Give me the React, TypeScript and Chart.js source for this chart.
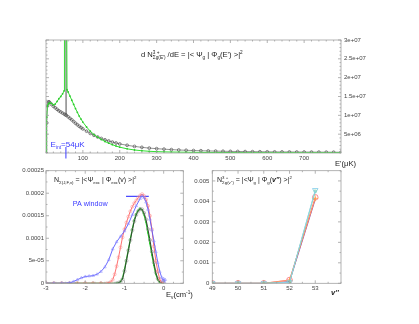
import React, { useEffect, useRef } from 'react';
import { Chart, registerables } from 'chart.js';

Chart.register(...registerables);

const FONT = '"Liberation Sans", Arial, Helvetica, sans-serif';

// ---------- top panel : dN/dE vs E' (μK), values in units of 1e6 ----------
const grayEnergy = [0, 2, 4, 6, 8, 10, 15, 20, 25, 30, 35, 40, 45, 50, 53, 54, 55, 60, 65, 70, 75, 80, 85, 90, 95, 100,
  110, 120, 130, 140, 150, 160, 170, 180, 190, 200,
  220, 240, 260, 280, 300, 320, 340, 360, 380, 400, 420, 440, 460, 480, 500, 520, 540, 560, 580, 600, 620, 640, 660, 680, 700, 720, 740, 760, 780, 800];
const grayDensityE6 = [0, 8.0, 12.5, 13.5, 13.6, 13.4, 12.9, 12.4, 12.0, 11.6, 11.2, 10.9, 10.6, 10.3, 10.15, 40, 10.0, 9.6, 9.2, 8.8, 8.35, 7.9, 7.5, 7.1, 6.75, 6.4,
  5.8, 5.2, 4.7, 4.25, 3.85, 3.5, 3.2, 2.9, 2.65, 2.4,
  2.05, 1.75, 1.5, 1.3, 1.15, 1.02, 0.9, 0.8, 0.72, 0.65, 0.6, 0.55, 0.5, 0.46, 0.43, 0.4, 0.37, 0.35, 0.33, 0.31, 0.29, 0.28, 0.27, 0.26, 0.25, 0.24, 0.23, 0.22, 0.21, 0.2];
const greenEnergy = [0, 1, 2, 4, 6, 8, 10, 15, 20, 25, 30, 35, 40, 45, 49, 50, 56, 57, 60, 65, 70, 75, 80, 85, 90, 95, 100,
  110, 120, 130, 140, 150, 160, 170, 180, 190, 200,
  220, 240, 260, 280, 300, 320, 340, 360, 380, 400, 420, 440, 460, 480, 500, 520, 540, 560, 580, 600, 620, 640, 660, 680, 700, 720, 740, 760, 780, 800];
const greenDensityE6 = [0, 5, 9.5, 12.5, 13.0, 13.2, 13.3, 13.2, 12.8, 13.0, 13.7, 14.4, 15.0, 15.7, 16.5, 40, 40, 16.8, 16.2, 15.1, 14.0, 12.9, 11.8, 10.8, 9.8, 9.0, 8.2,
  6.9, 5.8, 4.9, 4.2, 3.6, 3.05, 2.6, 2.2, 1.85, 1.55,
  1.1, 0.8, 0.6, 0.45, 0.36, 0.3, 0.26, 0.23, 0.2, 0.18, 0.16, 0.15, 0.14, 0.13, 0.12, 0.11, 0.105, 0.1, 0.095, 0.09, 0.088, 0.085, 0.082, 0.08, 0.078, 0.076, 0.074, 0.072, 0.07, 0.07];
const topXTicks = [100, 200, 300, 400, 500, 600, 700];
const topXTickLabels = ['100', '200', '300', '400', '500', '600', '700'];
const topYTicks = [5e6, 1e7, 1.5e7, 2e7, 2.5e7, 3e7];
const topYTickLabels = ['5e+06', '1e+07', '1.5e+07', '2e+07', '2.5e+07', '3e+07'];
const intEnergy = 54;

// ---------- bottom-left : N vs E_v (cm^-1), values in units of 1e-5 ----------
const exBlueE = [-3, -2.8, -2.6, -2.4, -2.3, -2.2, -2.1, -2, -1.9, -1.8, -1.7, -1.6, -1.5, -1.4, -1.3, -1.2, -1.1, -1, -0.9, -0.8, -0.7, -0.6, -0.55, -0.5, -0.45, -0.4, -0.35, -0.3, -0.25, -0.2, -0.15, -0.1, -0.05, -0.02, 0, 0.02, 0.04];
const exBlueN = [0, 0, 0, 0.1, 0.4, 0.8, 1.2, 1.5, 1.6, 1.7, 2.0, 2.6, 3.6, 5.2, 7.6, 9.2, 10.4, 11.6, 13.2, 15.2, 17.2, 18.8, 19.4, 19.0, 18.0, 16.4, 14.2, 11.8, 9.4, 7.0, 4.6, 2.6, 1.3, 0.6, 1.0, 0.4, 0.8];
const exRedE = [-3, -2.8, -2.6, -2.4, -2.2, -2, -1.8, -1.6, -1.45, -1.35, -1.3, -1.25, -1.2, -1.15, -1.1, -1.05, -1, -0.95, -0.9, -0.85, -0.8, -0.75, -0.7, -0.65, -0.6, -0.55, -0.5, -0.45, -0.4, -0.35, -0.3, -0.25, -0.2, -0.15, -0.1, -0.05, 0];
const exRedN = [0, 0, 0, 0, 0, 0, 0, 0, 0, 0.3, 0.8, 2.0, 3.8, 5.8, 8.0, 10.2, 12.0, 13.5, 14.8, 16.0, 17.0, 17.8, 18.4, 19.0, 19.5, 19.8, 19.4, 18.6, 17.2, 15.0, 12.0, 8.2, 5.0, 2.7, 0.9, 0.2, 0];
const exGreenE = [-3, -2.8, -2.6, -2.4, -2.2, -2, -1.8, -1.6, -1.4, -1.2, -1.15, -1.1, -1.05, -1, -0.95, -0.9, -0.85, -0.8, -0.75, -0.7, -0.65, -0.6, -0.55, -0.5, -0.45, -0.4, -0.35, -0.3, -0.25, -0.2, -0.15, -0.1, -0.05, 0];
const exGreenN = [0, 0, 0, 0, 0, 0, 0, 0, 0, 0, 0.1, 0.4, 1.1, 3.0, 5.2, 7.5, 9.8, 12.0, 14.0, 15.4, 16.2, 16.6, 16.3, 15.2, 13.6, 11.2, 8.8, 6.3, 4.0, 2.0, 0.8, 0.2, 0, 0];
const exBlackN = [0, 0, 0, 0, 0, 0, 0, 0, 0, 0, 0.1, 0.3, 0.9, 2.7, 5.0, 7.3, 9.6, 11.8, 13.8, 15.2, 16.0, 16.5, 16.4, 15.6, 14.2, 12.0, 9.6, 7.0, 4.6, 2.4, 1.0, 0.3, 0.1, 0];
const paWindowE = [-0.96, -0.38];
const paWindowN = [19.3, 19.3];
const exXTicks = [-3, -2, -1, 0];
const exXTickLabels = ['-3', '-2', '-1', '0'];
const exYTicks = [0, 5e-5, 1e-4, 1.5e-4, 2e-4, 2.5e-4];
const exYTickLabels = ['0', '5e-05', '0.0001', '0.00015', '0.0002', '0.00025'];

// ---------- bottom-right : N vs v'' ----------
const vLevels = [49, 50, 51, 52, 53];
const gCyan = [0, 0, 0, 0.00005, 0.00455];
const gGreen = [0, 0, 0, 0.00005, 0.0045];
const gRed = [0, 0, 0, 0.00016, 0.0042];
const gOrange = [0, 0, 0, 0.00015, 0.00415];
const gPurple = [0, 0, 0, 0.00008, 0.0041];
const gXTicks = [49, 50, 51, 52, 53];
const gXTickLabels = ['49', '50', '51', '52', '53'];
const gYTicks = [0, 0.001, 0.002, 0.003, 0.004, 0.005];
const gYTickLabels = ['0', '0.001', '0.002', '0.003', '0.004', '0.005'];

// ---------- helpers ----------
const pts = (xs: number[], ys: number[], k = 1) => xs.map((x, i) => ({ x, y: ys[i] * k }));

function axis(o: any) {
  return {
    type: 'linear',
    position: o.position,
    min: o.min,
    max: o.max,
    grid: { display: false, drawTicks: false },
    border: { display: false },
    ticks: {
      color: '#444',
      font: { family: FONT, size: 6 },
      padding: o.padding,
      autoSkip: false,
      maxRotation: 0,
      callback: (_v: any, i: number) => o.labels[i],
    },
    afterBuildTicks: (s: any) => { s.ticks = o.ticks.map((v: number) => ({ value: v })); },
    afterFit: (s: any) => { if (o.horizontal) s.height = o.size; else s.width = o.size; },
  };
}

type Seg = [string, string, boolean?];
function drawRich(ctx: CanvasRenderingContext2D, x: number, y: number, segs: Seg[], size: number, color: string) {
  let cx = x;
  ctx.save();
  ctx.fillStyle = color;
  ctx.textBaseline = 'alphabetic';
  ctx.textAlign = 'left';
  for (const [t, k, noAdv] of segs) {
    const small = k === 'sub' || k === 'sup';
    const s = small ? size * 0.62 : size;
    const dy = k === 'sub' ? size * 0.32 : k === 'sup' ? -size * 0.45 : 0;
    ctx.font = `${k === 'it' ? 'italic bold ' : ''}${s}px ${FONT}`;
    ctx.fillText(t, cx, y + dy);
    if (!noAdv) cx += ctx.measureText(t).width;
  }
  ctx.restore();
}

function drawFrame(chart: any, xMaj: number[], xStep: number, yMaj: number[], yStep: number) {
  const { ctx, chartArea: a } = chart;
  const xs = chart.scales.x, ys = chart.scales.y;
  ctx.save();
  ctx.strokeStyle = '#a0a0a0';
  ctx.lineWidth = 0.8;
  ctx.strokeRect(a.left, a.top, a.right - a.left, a.bottom - a.top);
  const ln = (x1: number, y1: number, x2: number, y2: number) => { ctx.beginPath(); ctx.moveTo(x1, y1); ctx.lineTo(x2, y2); ctx.stroke(); };
  for (let v = xs.min; v <= xs.max + 1e-9; v += xStep) {
    const p = xs.getPixelForValue(v);
    const L = xMaj.some((m) => Math.abs(m - v) < xStep / 10) ? 3 : 1.5;
    ln(p, a.bottom, p, a.bottom - L); ln(p, a.top, p, a.top + L);
  }
  for (let v = ys.min; v <= ys.max + 1e-12; v += yStep) {
    const p = ys.getPixelForValue(v);
    const L = yMaj.some((m) => Math.abs(m - v) < yStep / 10) ? 3 : 1.5;
    ln(a.left, p, a.left + L, p); ln(a.right, p, a.right - L, p);
  }
  ctx.restore();
}

const baseOpts = {
  responsive: false,
  animation: false,
  events: [],
  plugins: { legend: { display: false }, tooltip: { enabled: false } },
};

// ---------- chart configs ----------
function topConfig(ox: number, oy: number): any {
  return {
    type: 'line',
    data: {
      datasets: [
        {
          data: pts(greenEnergy, greenDensityE6, 1e6),
          borderColor: '#33e033', borderWidth: 1,
          pointRadius: 0.9, pointBorderWidth: 0, pointBackgroundColor: '#2fc82f',
        },
        {
          data: pts(grayEnergy, grayDensityE6, 1e6),
          borderColor: '#777', borderWidth: 0.8,
          pointRadius: 1.4, pointBorderWidth: 0.7, pointBorderColor: '#555', pointBackgroundColor: 'rgba(0,0,0,0)',
        },
      ],
    },
    options: {
      ...baseOpts,
      layout: { padding: { left: 46, top: 40, right: 0, bottom: 0 } },
      scales: {
        x: axis({ position: 'bottom', min: 0, max: 800, ticks: topXTicks, labels: topXTickLabels, padding: 1.5, size: 15, horizontal: true }),
        y: axis({ position: 'right', min: 0, max: 3e7, ticks: topYTicks, labels: topYTickLabels, padding: 3, size: 78 }),
      },
    },
    plugins: [{
      id: 'topDecor',
      afterDraw(chart: any) {
        const ctx = chart.ctx;
        drawFrame(chart, topXTicks, 20, topYTicks, 1e6);
        drawRich(ctx, 141 - ox, 57 - oy, [
          ['d N', 'n'], ['3 +', 'sup', true], ['Σg(E\')', 'sub'], [' /dE = |< Ψ', 'n'], ['g', 'sub'],
          [' | Φ', 'n'], ['g', 'sub'], ['(E\') >|', 'n'], ['2', 'sup'],
        ], 7.6, '#222');
        drawRich(ctx, 335 - ox, 166 - oy, [['E\'(μK)', 'n']], 7.6, '#222');
        drawRich(ctx, 50.5 - ox, 146.5 - oy, [['E', 'n'], ['int', 'sub'], ['=54μK', 'n']], 8, '#3a3aff');
        const px = chart.scales.x.getPixelForValue(intEnergy);
        ctx.save();
        ctx.strokeStyle = '#3a3aff'; ctx.lineWidth = 1;
        ctx.beginPath(); ctx.moveTo(px, 147 - oy); ctx.lineTo(px, 158.5 - oy); ctx.stroke();
        ctx.restore();
      },
    }],
  };
}

function excConfig(ox: number, oy: number): any {
  return {
    type: 'line',
    data: {
      datasets: [
        {
          data: pts(exBlueE, exBlueN, 1e-5), borderColor: '#5a5aff', borderWidth: 0.9,
          pointStyle: 'triangle', pointRadius: 1.6, pointBorderWidth: 0.5, pointBorderColor: '#8a8aff', pointBackgroundColor: 'rgba(0,0,0,0)',
        },
        {
          data: pts(exRedE, exRedN, 1e-5), borderColor: '#ff6060', borderWidth: 0.9,
          pointRadius: 1.5, pointBorderWidth: 0.5, pointBorderColor: '#ff8a8a', pointBackgroundColor: 'rgba(0,0,0,0)',
        },
        {
          data: pts(exGreenE, exBlackN, 1e-5), borderColor: '#333', borderWidth: 0.9,
          pointRadius: 1.6, pointBorderWidth: 0.5, pointBorderColor: '#888', pointBackgroundColor: 'rgba(0,0,0,0)',
        },
        {
          data: pts(exGreenE, exGreenN, 1e-5), borderColor: '#22cc22', borderWidth: 1.3,
          pointStyle: 'rect', pointRadius: 1, pointBorderWidth: 0, pointBackgroundColor: '#22cc22',
        },
        {
          data: pts(paWindowE, paWindowN, 1e-5), borderColor: '#4a4aff', borderWidth: 1.3, pointRadius: 0,
        },
      ],
    },
    options: {
      ...baseOpts,
      layout: { padding: { left: 0, top: 10.7, right: 21.7, bottom: 0 } },
      scales: {
        x: axis({ position: 'bottom', min: -3, max: 0.5, ticks: exXTicks, labels: exXTickLabels, padding: 1.6, size: 40.7, horizontal: true }),
        y: axis({ position: 'left', min: 0, max: 2.5e-4, ticks: exYTicks, labels: exYTickLabels, padding: 2, size: 46 }),
      },
    },
    plugins: [{
      id: 'excDecor',
      afterDraw(chart: any) {
        const ctx = chart.ctx;
        drawFrame(chart, exXTicks, 0.25, exYTicks, 2.5e-5);
        drawRich(ctx, 54 - ox, 182 - oy, [
          ['N', 'n'], ['Σ(J,F,v)', 'sub'], [' = |<Ψ', 'n'], ['exc', 'sub'], [' | Φ', 'n'], ['exc', 'sub'], ['(v) >|', 'n'], ['2', 'sup'],
        ], 7, '#222');
        drawRich(ctx, 72.7 - ox, 205.5 - oy, [['PA window', 'n']], 7.2, '#3a3aff');
        drawRich(ctx, 166 - ox, 297 - oy, [['E', 'n'], ['v', 'sub'], ['(cm', 'n'], ['-1', 'sup'], [')', 'n']], 7.6, '#222');
      },
    }],
  };
}

function gndConfig(ox: number, oy: number): any {
  return {
    type: 'line',
    data: {
      datasets: [
        {
          data: pts(vLevels, gCyan), borderColor: '#8fd3f0', borderWidth: 1,
          pointStyle: 'triangle', rotation: 180, pointRadius: 3.2, pointBorderWidth: 0.8, pointBorderColor: '#7fcbe8', pointBackgroundColor: 'rgba(0,0,0,0)',
        },
        {
          data: pts(vLevels, gGreen), borderColor: '#6ad46a', borderWidth: 0.8,
          pointStyle: 'rect', pointRadius: 1.5, pointBorderWidth: 0.6, pointBorderColor: '#5ccc5c', pointBackgroundColor: 'rgba(0,0,0,0)',
        },
        {
          data: pts(vLevels, gOrange), borderColor: '#ffb060', borderWidth: 0.8,
          pointStyle: 'cross', pointRadius: 3, pointBorderWidth: 0.8, pointBorderColor: '#ffa040',
        },
        {
          data: pts(vLevels, gRed), borderColor: '#ff5c7a', borderWidth: 1,
          pointRadius: 2.8, pointBorderWidth: 0.8, pointBorderColor: '#ff6a7e', pointBackgroundColor: 'rgba(0,0,0,0)',
        },
        {
          data: pts(vLevels, gPurple), borderColor: '#8a3fb0', borderWidth: 1, pointRadius: 0,
        },
      ],
    },
    options: {
      ...baseOpts,
      layout: { padding: { left: 0, top: 10.7, right: 78, bottom: 0 } },
      scales: {
        x: axis({ position: 'bottom', min: 49, max: 54, ticks: gXTicks, labels: gXTickLabels, padding: 1.6, size: 40.7, horizontal: true }),
        y: axis({ position: 'left', min: 0, max: 0.0055, ticks: gYTicks, labels: gYTickLabels, padding: 3, size: 27.3 }),
      },
    },
    plugins: [{
      id: 'gndDecor',
      afterDraw(chart: any) {
        const ctx = chart.ctx;
        drawFrame(chart, gXTicks, 0.5, gYTicks, 0.0005);
        drawRich(ctx, 217 - ox, 182 - oy, [
          ['N', 'n'], ['3 +', 'sup', true], ['Σg(v\'\')', 'sub'], [' = |<Ψ', 'n'], ['g', 'sub'], [' | Φ', 'n'], ['g', 'sub'],
          ['(', 'n'], ['v\'\'', 'it'], [') >|', 'n'], ['2', 'sup'],
        ], 7, '#222');
        drawRich(ctx, 331 - ox, 295 - oy, [['v\'\'', 'it']], 7.6, '#222');
      },
    }],
  };
}

function Panel({ left, top, width, height, make }: { left: number; top: number; width: number; height: number; make: (ox: number, oy: number) => any }) {
  const ref = useRef<HTMLCanvasElement>(null);
  useEffect(() => {
    const chart = new Chart(ref.current as HTMLCanvasElement, make(left, top));
    return () => chart.destroy();
  }, []);
  return (
    <canvas
      ref={ref}
      width={width}
      height={height}
      style={{ position: 'absolute', left, top, width, height }}
    />
  );
}

export default function App() {
  return (
    <div style={{ position: 'fixed', left: 0, top: 0, width: 419, height: 324, background: '#fff', overflow: 'hidden' }}>
      <Panel left={0} top={0} width={419} height={168} make={topConfig} />
      <Panel left={0} top={160} width={205} height={164} make={excConfig} />
      <Panel left={185} top={160} width={234} height={164} make={gndConfig} />
    </div>
  );
}
